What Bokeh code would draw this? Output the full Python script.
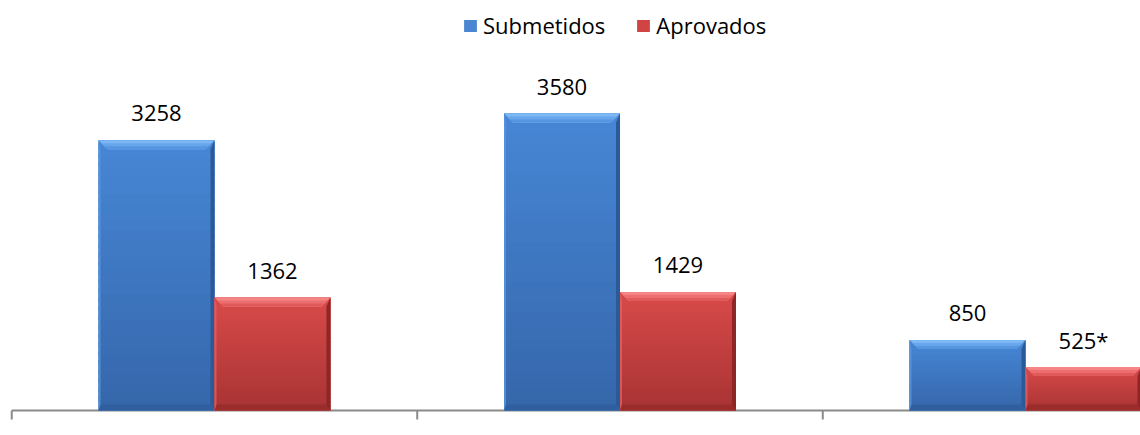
import numpy as np
from bokeh.plotting import figure
from bokeh.models import Range1d, Legend, LegendItem
from bokeh.core.properties import value
from bokeh.embed import file_html
from bokeh.resources import INLINE

# ---- data ----
groups = ["Grupo 1", "Grupo 2", "Grupo 3"]
submetidos = [3258, 3580, 850]
aprovados = [1362, 1429, 525]
labels_sub = ["3258", "3580", "850"]
labels_apr = ["1362", "1429", "525*"]
series_names = ["Submetidos", "Aprovados"]
group_edges = [0, 1, 2, 3]

# ---- layout ----
W, H = 1140, 435
BASE_PX = 410          # baseline position from top (px)
PX_X = 1 / 405.5       # data units per px (x)
PX_Y = 1 / 0.08296     # data units per px (y)
X0 = -11.25 * PX_X
X1 = X0 + W * PX_X
Y0 = -(H - BASE_PX) * PX_Y
Y1 = BASE_PX * PX_Y
BAR_W = 0.286
FONT = "Open Sans"

p = figure(width=W, height=H, output_backend="svg", toolbar_location=None,
           x_range=Range1d(X0, X1), y_range=Range1d(Y0, Y1),
           min_border_left=0, min_border_right=0,
           min_border_top=0, min_border_bottom=0)
p.xaxis.visible = False
p.yaxis.visible = False
p.outline_line_color = None
p.grid.visible = False
p.background_fill_color = "white"

# category axis line + ticks at group boundaries
p.segment(x0=[group_edges[0]], y0=[0], x1=[X1], y1=[0], line_color="#8a8a8a", line_width=2)
p.segment(x0=group_edges, y0=[0] * len(group_edges), x1=group_edges,
          y1=[-9 * PX_Y] * len(group_edges), line_color="#8a8a8a", line_width=2)


def hex2rgb(h):
    h = h.lstrip("#")
    return np.array([int(h[i:i + 2], 16) for i in (0, 2, 4)], dtype=float)


def rgb2hex(c):
    c = np.clip(np.round(c), 0, 255).astype(int)
    return "#%02x%02x%02x" % tuple(c)


styles = {
    "Submetidos": dict(top="#4787d6", bottom="#3566aa",
                       bevel_top=["#7cb8f4", "#68a6ec", "#5695e0"],
                       bevel_right="#2c5997", bevel_bottom="#2f5c9c",
                       bevel_left="#5a95dc", flat="#4a86d2"),
    "Aprovados": dict(top="#d94a4a", bottom="#a83333",
                      bevel_top=["#f58585", "#ec6e6e", "#e05a5a"],
                      bevel_right="#8e2626", bevel_bottom="#962a2a",
                      bevel_left="#e06060", flat="#d04444"),
}

N = 30
legend_items = []
for si, (name, vals) in enumerate(zip(series_names, [submetidos, aprovados])):
    st = styles[name]
    ctop, cbot = hex2rgb(st["top"]), hex2rgb(st["bottom"])
    L, R, T, B, C = [], [], [], [], []
    tops = [([], []) for _ in st["bevel_top"]]
    pxs_r, pys_r, pxs_b, pys_b, pxs_l, pys_l = ([] for _ in range(6))
    centers = [gi + 0.5 + (BAR_W / 2 if si == 1 else -BAR_W / 2) for gi in range(len(vals))]
    p.vbar(x=centers, top=vals, bottom=0, width=BAR_W, fill_color=st["flat"], line_color=None)
    for cx, v in zip(centers, vals):
        l, r = cx - BAR_W / 2, cx + BAR_W / 2
        for k in range(N):
            f = (k + 0.5) / N
            L.append(l); R.append(r)
            B.append(v * k / N); T.append(min(v, v * (k + 1.6) / N))
            C.append(rgb2hex(cbot + (ctop - cbot) * f))
        bt = 9 * PX_Y
        bx = 9 * PX_X
        rw = 4 * PX_X
        lw = 2 * PX_X
        bb = 6 * PX_Y
        nb = len(st["bevel_top"])
        for j in range(nb):
            d0 = j * 3
            xs = [l + d0 * PX_X, r - d0 * PX_X, r - bx, l + bx]
            ys = [v - d0 * PX_Y, v - d0 * PX_Y, v - bt, v - bt]
            tops[j][0].append(xs); tops[j][1].append(ys)
        pxs_r.append([r, r, r - rw, r - rw]); pys_r.append([v, 0, bb, v - bt])
        pxs_b.append([l, r, r - rw, l + lw]); pys_b.append([0, 0, bb, bb])
        pxs_l.append([l, l, l + lw, l + lw]); pys_l.append([v, 0, bb, v - bt])
    p.quad(left=L, right=R, top=T, bottom=B, fill_color=C, line_color=None)
    for j, col in enumerate(st["bevel_top"]):
        p.patches(tops[j][0], tops[j][1], fill_color=col, line_color=None)
    p.patches(pxs_r, pys_r, fill_color=st["bevel_right"], line_color=None)
    p.patches(pxs_b, pys_b, fill_color=st["bevel_bottom"], line_color=None, fill_alpha=0.8)
    p.patches(pxs_l, pys_l, fill_color=st["bevel_left"], line_color=None, fill_alpha=0.8)
    # legend proxy renderer (outside visible range)
    dummy = p.quad(left=[10], right=[11], top=[1], bottom=[0],
                   fill_color=st["flat"], line_color=None)
    legend_items.append(LegendItem(label=name, renderers=[dummy]))

    labs = labels_sub if si == 0 else labels_apr
    p.text(x=centers, y=vals, text=labs, text_align="center", text_baseline="alphabetic",
           y_offset=-27, text_font=value(FONT), text_font_size="22px", text_color="#000000")

legend = Legend(items=legend_items, orientation="horizontal", location=(462, 395),
                glyph_width=16, glyph_height=15, label_standoff=5, spacing=30,
                padding=0, margin=0, border_line_color=None, background_fill_alpha=0,
                label_text_font=FONT, label_text_font_size="22px", label_text_color="#000000")
p.add_layout(legend, "center")

open("out.html", "w").write(file_html(p, INLINE))
